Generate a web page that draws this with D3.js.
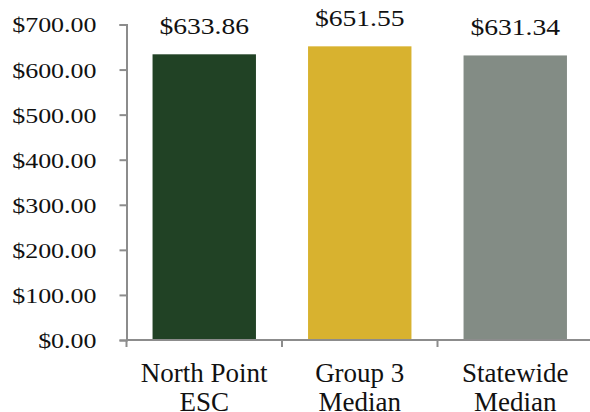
<!DOCTYPE html>
<html>
<head>
    <meta charset="utf-8"/>
    <title>Cost comparison</title>
    <script src="https://d3js.org/d3.v7.min.js"></script>
    <style>
        body { margin: 0; background: white; }
        svg text { font-family: "Liberation Serif", "DejaVu Serif", serif; fill: #111; }
    </style>
</head>
<body>
<svg id="chart" width="590" height="412"></svg>
<script type="text/javascript">

    var categories = [["North Point", "ESC"], ["Group 3", "Median"], ["Statewide", "Median"]];
    var values = [633.86, 651.55, 631.34];
    var colors = ["#214225", "#d8b22f", "#838c85"];
    var tickValues = [0, 100, 200, 300, 400, 500, 600, 700];

    var svg = d3.select("#chart");
    var mLeft = 126.5, mRight = 593, mTop = 24.5, mBottom = 340;

    var x = d3.scaleBand()
            .domain(d3.range(categories.length))
            .range([mLeft, mRight])
            .paddingInner(0.335)
            .paddingOuter(0.1675);

    var y = d3.scaleLinear()
            .domain([0, 700])
            .range([mBottom, mTop]);

    // stretch text horizontally around its anchor x (the source picture is wider than tall)
    var stretch = function (sel, sx) {
        sel.attr("transform", function () {
            var ax = +d3.select(this).attr("x") || 0;
            return "translate(" + ax + ",0) scale(" + sx + ",1) translate(" + (-ax) + ",0)";
        });
    };

    // bars
    svg.selectAll(".bar")
            .data(values)
            .enter().append("rect")
            .attr("class", "bar")
            .attr("x", function (d, i) { return x(i); })
            .attr("y", function (d) { return y(d); })
            .attr("width", x.bandwidth())
            .attr("height", function (d) { return mBottom - y(d); })
            .style("fill", function (d, i) { return colors[i]; });

    // y axis
    var yAxis = svg.append("g")
            .attr("transform", "translate(" + mLeft + ",0)")
            .call(d3.axisLeft(y).tickValues(tickValues).tickSize(7).tickSizeOuter(7).tickPadding(23)
                    .tickFormat(function (d) { return "$" + d3.format(".2f")(d); }));
    yAxis.attr("font-family", null);
    yAxis.selectAll("text").style("font-size", "22px").attr("dy", "0.34em");
    stretch(yAxis.selectAll("text"), 1.18);

    // x axis with ticks at band boundaries
    var xAxis = svg.append("g").attr("transform", "translate(0," + mBottom + ")");
    xAxis.append("line")
            .attr("x1", mLeft).attr("x2", mRight)
            .attr("y1", 0).attr("y2", 0);
    var step = x.step();
    xAxis.selectAll(".xtick")
            .data(d3.range(categories.length + 1))
            .enter().append("line")
            .attr("class", "xtick")
            .attr("x1", function (d) { return mLeft + d * step; })
            .attr("x2", function (d) { return mLeft + d * step; })
            .attr("y1", 0).attr("y2", 7);

    svg.selectAll(".domain, .tick line, g line")
            .style("stroke", "#8c8c8c")
            .style("stroke-width", 2);
    yAxis.select(".domain").style("fill", "none");

    // category labels
    categories.forEach(function (lines, i) {
        var cx = x(i) + x.bandwidth() / 2;
        var t = svg.append("text")
                .attr("x", cx)
                .attr("y", 381.5)
                .attr("text-anchor", "middle")
                .style("font-size", "27px");
        lines.forEach(function (l, j) {
            t.append("tspan")
                    .attr("x", cx)
                    .attr("dy", j === 0 ? 0 : 29)
                    .text(l);
        });
    });

    // value labels
    var vals = svg.selectAll(".val")
            .data(values)
            .enter().append("text")
            .attr("class", "val")
            .attr("x", function (d, i) { return x(i) + x.bandwidth() / 2; })
            .attr("y", function (d) { return y(d) - 20; })
            .attr("text-anchor", "middle")
            .style("font-size", "23px")
            .text(function (d) { return "$" + d3.format(".2f")(d); });
    stretch(vals, 1.2);
</script>
</body>
</html>
